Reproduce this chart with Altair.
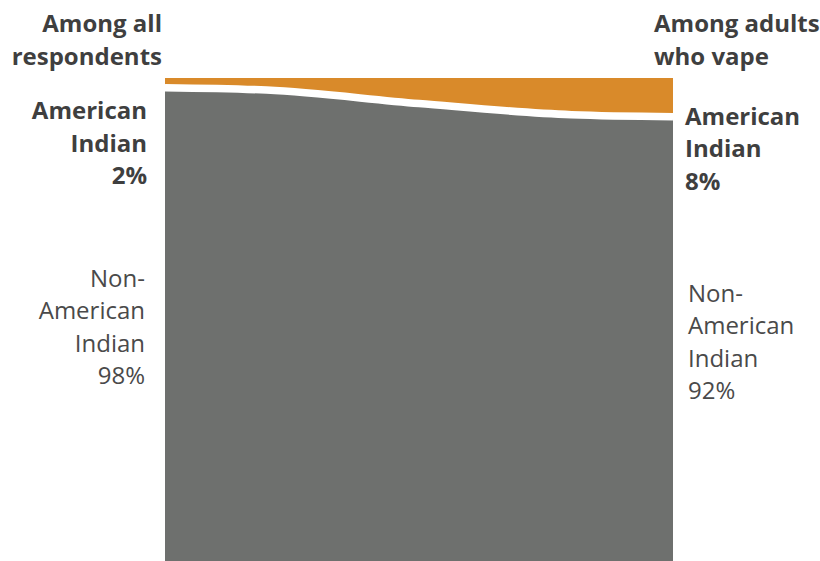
import altair as alt
import pandas as pd

# Flow position (0 = among all respondents, 1 = among adults who vape)
pos = [0.0, 0.2, 0.5, 0.8, 1.0]
# American Indian share (%) read along the flow
ai_share = [2.0, 2.5, 5.3, 7.6, 8.0]

left_pct = 2
right_pct = 8

ORANGE = "#D98A2A"
GRAY = "#6E706E"
TXT_B = "#3F3F3F"
TXT_R = "#4A4A4A"
FONT = "Open Sans"

df = pd.DataFrame({"x": pos, "ai": ai_share})
df["non_top"] = 100 - df["ai"]
df["zero"] = 0
df["full"] = 100

xs = alt.Scale(domain=[0, 1], nice=False, zero=False)
ys = alt.Scale(domain=[0, 100], nice=False)

base = alt.Chart(df)

orange = base.mark_area(color=ORANGE, interpolate="monotone").encode(
    x=alt.X("x:Q", scale=xs, axis=None),
    y=alt.Y("zero:Q", scale=ys, axis=None),
    y2="full:Q",
)
gray = base.mark_area(color=GRAY, interpolate="monotone").encode(
    x=alt.X("x:Q", scale=xs, axis=None),
    y=alt.Y("zero:Q", scale=ys, axis=None),
    y2="non_top:Q",
)
sep = base.mark_line(color="white", strokeWidth=7.5, interpolate="monotone").encode(
    x=alt.X("x:Q", scale=xs, axis=None),
    y=alt.Y("non_top:Q", scale=ys, axis=None),
)

labels = pd.DataFrame({
    "x": [0, 0, 0, 1, 1, 1],
    "y": [109.5, 91.5, 56.8, 109.5, 90.3, 53.7],
    "text": [
        "Among all\nrespondents",
        f"American\nIndian\n{left_pct}%",
        f"Non-\nAmerican\nIndian\n{100 - left_pct}%",
        "Among adults\nwho vape",
        f"American\nIndian\n{right_pct}%",
        f"Non-\nAmerican\nIndian\n{100 - right_pct}%",
    ],
    "kind": ["hl", "bl", "rl", "hr", "br", "rr"],
})

def txt(kind, align, dx, weight, color):
    return alt.Chart(labels[labels["kind"] == kind]).mark_text(
        align=align, baseline="alphabetic", dx=dx, font=FONT, fontSize=24,
        fontWeight=weight, color=color, lineBreak="\n", lineHeight=32.5,
    ).encode(
        x=alt.X("x:Q", scale=xs, axis=None),
        y=alt.Y("y:Q", scale=ys, axis=None),
        text="text:N",
    )

texts = [
    txt("hl", "right", -3, "bold", TXT_B),
    txt("bl", "right", -18, "bold", TXT_B),
    txt("rl", "right", -20, "normal", TXT_R),
    txt("hr", "left", -19, "bold", TXT_B),
    txt("br", "left", 12, "bold", TXT_B),
    txt("rr", "left", 15, "normal", TXT_R),
]

chart = alt.layer(orange, gray, sep, *texts).properties(
    width=508,
    height=483,
    padding={"left": 165, "top": 78, "right": 147, "bottom": 0},
    autosize=alt.AutoSizeParams(type="none"),
    background="white",
).configure_view(stroke=None)

chart.save("out.html", embed_options={"renderer": "svg", "actions": False})
